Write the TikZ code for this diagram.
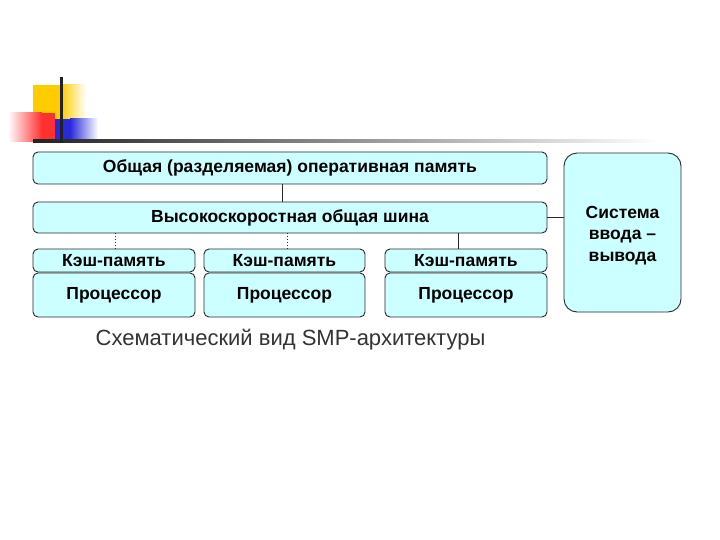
\documentclass[tikz,border=0pt]{standalone}
\usepackage{fontspec}
\setmainfont{Liberation Sans}
\begin{document}
\begin{tikzpicture}[x=1pt,y=-1pt,
  blk/.style={draw=boxline, line width=0.9pt, fill=boxfill, rounded corners=5pt,
     inner sep=0pt, font=\fontsize{17.5}{20}\selectfont\bfseries, text=black},
  conn/.style={draw=boxline, line width=0.9pt},
  dconn/.style={draw=boxline, line width=0.9pt, dotted}]
\definecolor{boxfill}{HTML}{CCFFFF}
\definecolor{boxline}{HTML}{2A2A2A}
\definecolor{yel}{HTML}{FFCC00}
\definecolor{redc}{HTML}{FF3030}
\definecolor{bluec}{HTML}{2A2ADC}
\definecolor{dark}{HTML}{222222}
\definecolor{captc}{HTML}{333333}
\useasboundingbox (0,0) rectangle (720,540);
\fill[white] (0,0) rectangle (720,540);
% decoration
\fill[yel] (33,85) rectangle (61,119);
\shade[left color=yel, right color=white] (61,85) rectangle (86,119);
\shade[left color=white, right color=redc] (8,113) rectangle (42,142);
\fill[redc] (42,113) rectangle (55,142);
\fill[bluec] (55,119) rectangle (70,142);
\shade[left color=bluec, right color=white] (70,119) rectangle (98,142);
\shade[left color=dark, right color=white] (33,139.5) rectangle (660,142.5);
\fill[dark] (59.5,77) rectangle (62.5,143);
% boxes
\node[blk, minimum width=514, minimum height=32] (mem) at (290,168) {Общая (разделяемая) оперативная память};
\node[blk, minimum width=514, minimum height=31] (bus) at (290,217.5) {Высокоскоростная общая шина};
\node[blk, minimum width=162, minimum height=23] (c1) at (114,260.5) {Кэш-память};
\node[blk, minimum width=162, minimum height=44] (p1) at (114,295) {Процессор};
\node[blk, minimum width=161, minimum height=23] (c2) at (284.5,260.5) {Кэш-память};
\node[blk, minimum width=161, minimum height=44] (p2) at (284.5,295) {Процессор};
\node[blk, minimum width=162, minimum height=23] (c3) at (466,260.5) {Кэш-память};
\node[blk, minimum width=162, minimum height=44] (p3) at (466,295) {Процессор};
\node[blk, rounded corners=13pt, minimum width=117, minimum height=159] (io) at (622.5,232.5) {};
\node[align=center, inner sep=0pt, font=\fontsize{17.5}{21.5}\selectfont\bfseries] (iot) at ([yshift=-3]io.center) {Система\\ввода –\\вывода};
% connectors
\coordinate (xm) at (282,0);
\coordinate (x1) at (115,0);
\coordinate (x2) at (287,0);
\coordinate (x3) at (458,0);
\draw[conn] (mem.south -| xm) -- (bus.north -| xm);
\draw[dconn] (bus.south -| x1) -- (c1.north -| x1);
\draw[dconn] (bus.south -| x2) -- (c2.north -| x2);
\draw[conn] (bus.south -| x3) -- (c3.north -| x3);
\draw[conn] (bus.east) -- (io.west |- bus.east);
% caption
\node[text=captc, font=\fontsize{22}{24}\selectfont, inner sep=0pt] (cap) at (290.5,340) {Схематический вид SMP-архитектуры};
\end{tikzpicture}
\end{document}
